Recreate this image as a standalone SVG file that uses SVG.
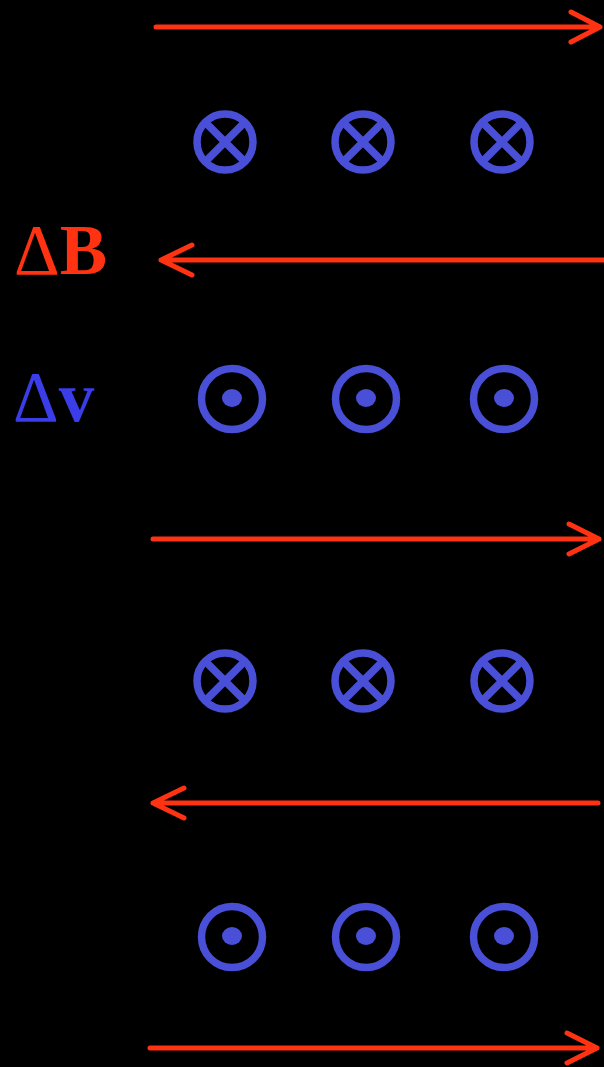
<svg xmlns="http://www.w3.org/2000/svg" width="604" height="1067" viewBox="0 0 604 1067">
<style>
.ar{stroke:#ff3312;stroke-width:5;fill:none;stroke-linecap:round;stroke-linejoin:round}
.cx{stroke:#4a4fd8;stroke-width:7.5;fill:none}
.dt{fill:#4a4fd8}
.lb{font-family:"Liberation Serif",serif;font-size:71px}
</style>
<rect width="604" height="1067" fill="#000"/>
<g id="labels">
<text class="lb" x="14" y="274" fill="#ff3312">Δ<tspan font-weight="bold">B</tspan></text>
<text class="lb" x="13" y="421" fill="#3a3de8">Δ<tspan font-weight="bold">v</tspan></text>
</g>
<g id="connectors">
<path class="ar" d="M156 27H600M571 12L600 27L571 42"/>
<path class="ar" d="M604 260H161M192 245L161 260L192 275"/>
<path class="ar" d="M153 539H599M569 524L599 539L569 554"/>
<path class="ar" d="M598 803H153M184 788L153 803L184 818"/>
<path class="ar" d="M150 1048H597M567 1033L597 1048L567 1063"/>
</g>
<g id="row1">
<g id="x11"><circle class="cx" cx="225" cy="142" r="28"/><path class="cx" d="M207 124L243 160M243 124L207 160"/></g>
<g id="x12"><circle class="cx" cx="363" cy="142" r="28"/><path class="cx" d="M345 124L381 160M381 124L345 160"/></g>
<g id="x13"><circle class="cx" cx="502" cy="142" r="28"/><path class="cx" d="M484 124L520 160M520 124L484 160"/></g>
</g>
<g id="row2">
<g id="d21"><circle class="cx" cx="232" cy="399" r="30.5"/><ellipse class="dt" cx="232" cy="398" rx="10" ry="9"/></g>
<g id="d22"><circle class="cx" cx="366" cy="399" r="30.5"/><ellipse class="dt" cx="366" cy="398" rx="10" ry="9"/></g>
<g id="d23"><circle class="cx" cx="504" cy="399" r="30.5"/><ellipse class="dt" cx="504" cy="398" rx="10" ry="9"/></g>
</g>
<g id="row3">
<g id="x31"><circle class="cx" cx="225" cy="681" r="28"/><path class="cx" d="M207 663L243 699M243 663L207 699"/></g>
<g id="x32"><circle class="cx" cx="363" cy="681" r="28"/><path class="cx" d="M345 663L381 699M381 663L345 699"/></g>
<g id="x33"><circle class="cx" cx="502" cy="681" r="28"/><path class="cx" d="M484 663L520 699M520 663L484 699"/></g>
</g>
<g id="row4">
<g id="d41"><circle class="cx" cx="232" cy="937" r="30.5"/><ellipse class="dt" cx="232" cy="936" rx="10" ry="9"/></g>
<g id="d42"><circle class="cx" cx="366" cy="937" r="30.5"/><ellipse class="dt" cx="366" cy="936" rx="10" ry="9"/></g>
<g id="d43"><circle class="cx" cx="504" cy="937" r="30.5"/><ellipse class="dt" cx="504" cy="936" rx="10" ry="9"/></g>
</g>
</svg>
